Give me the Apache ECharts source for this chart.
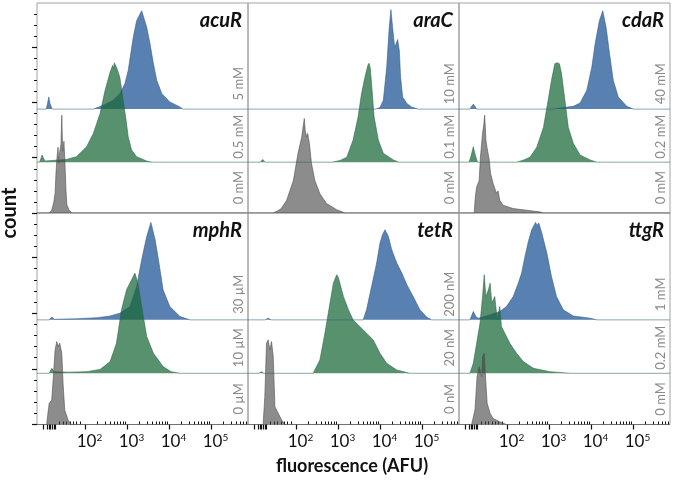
<!DOCTYPE html>
<html><head><meta charset="utf-8">
<script src="https://cdn.jsdelivr.net/npm/echarts@6/dist/echarts.min.js"></script>
<style>html,body{margin:0;padding:0;background:#fff}#c{width:673px;height:480px}</style>
</head><body><div id="c"></div>
<script>
// ---- categories / labels ----
const panels = ['acuR', 'araC', 'cdaR', 'mphR', 'tetR', 'ttgR'];
const concLabels = [
  ['0 mM', '0.5 mM', '5 mM'],
  ['0 mM', '0.1 mM', '10 mM'],
  ['0 mM', '0.2 mM', '40 mM'],
  ['0 \u00b5M', '10 \u00b5M', '30 \u00b5M'],
  ['0 nM', '20 nM', '200 nM'],
  ['0 mM', '0.2 mM', '1 mM']
];
// x positions are in decades (log10 of fluorescence, logicle display)
const majorTicks = [2, 3, 4, 5];
const majorTickExp = ['2', '3', '4', '5'];
const zeroRegionTicks = [1.01, 1.10, 1.14, 1.18, 1.22, 1.26, 1.30];
const lowMinorTicks = [1.40, 1.48, 1.56, 1.64, 1.72, 1.80, 1.88];
const ridgeOffsets = [0, 0.92, 1.88]; // baselines of gray, green, blue

// ---- series values: [decade position, count height] ----
const acuR_gray = [[1.15,0],[1.21,0.05],[1.26,0.2],[1.29,0.35],[1.31,0.7],[1.33,0.95],[1.36,1.19],[1.38,0.9],[1.40,1.1],[1.43,1.25],[1.45,1.77],[1.47,1.12],[1.49,1.2],[1.50,1.3],[1.52,1.0],[1.55,0.4],[1.57,0.15],[1.62,0.06],[1.69,0]];
const acuR_green = [[0.92,0],[0.96,0.08],[0.98,0.13],[1.01,0.08],[1.05,0.02],[1.56,0.05],[1.80,0.10],[2.04,0.28],[2.20,0.52],[2.36,0.88],[2.48,1.30],[2.60,1.63],[2.66,1.75],[2.68,1.70],[2.70,1.80],[2.73,1.78],[2.76,1.70],[2.83,1.54],[2.91,1.12],[2.98,0.76],[3.03,0.46],[3.11,0.22],[3.23,0.10],[3.47,0.02],[3.6,0]];
const acuR_blue = [[1.08,0],[1.11,0.1],[1.14,0.22],[1.17,0.1],[1.22,0],[2.2,0],[2.44,0.07],[2.67,0.16],[2.83,0.28],[2.95,0.46],[3.03,0.70],[3.09,1.0],[3.15,1.30],[3.23,1.60],[3.35,1.78],[3.47,1.48],[3.55,1.18],[3.63,0.82],[3.71,0.52],[3.83,0.28],[4.02,0.13],[4.26,0.04],[4.33,0]];

const araC_gray = [[1.45,0],[1.55,0.03],[1.65,0.08],[1.78,0.23],[1.94,0.59],[2.05,1.08],[2.14,1.38],[2.17,1.56],[2.20,1.71],[2.22,1.50],[2.25,1.38],[2.28,1.44],[2.32,1.26],[2.37,0.90],[2.45,0.59],[2.57,0.35],[2.73,0.17],[2.97,0.06],[3.17,0]];
const araC_green = [[1.15,0],[1.21,0.05],[1.27,0],[2.85,0],[3.05,0.03],[3.21,0.09],[3.36,0.40],[3.48,0.82],[3.56,1.24],[3.64,1.53],[3.71,1.75],[3.74,1.79],[3.77,1.70],[3.80,1.42],[3.86,0.82],[3.96,0.40],[4.08,0.16],[4.32,0.04],[4.45,0]];
const araC_blue = [[3.9,0],[4.0,0.03],[4.08,0.16],[4.16,0.76],[4.22,1.48],[4.26,1.80],[4.30,1.48],[4.35,1.12],[4.38,1.18],[4.42,1.26],[4.46,1.06],[4.49,0.58],[4.54,0.22],[4.64,0.10],[4.75,0.04],[4.9,0]];

const cdaR_gray = [[1.22,0],[1.25,0.3],[1.28,0.47],[1.34,0.59],[1.37,1.01],[1.42,1.44],[1.45,1.6],[1.47,1.77],[1.49,1.5],[1.50,1.32],[1.53,1.17],[1.58,0.96],[1.61,0.72],[1.67,0.54],[1.71,0.45],[1.75,0.36],[1.79,0.4],[1.83,0.23],[1.91,0.14],[2.15,0.08],[2.47,0.05],[2.79,0.02],[2.87,0]];
const cdaR_green = [[1.10,0],[1.15,0.12],[1.20,0.28],[1.25,0.12],[1.30,0],[2.23,0],[2.40,0.04],[2.55,0.09],[2.71,0.27],[2.87,0.63],[2.98,1.12],[3.06,1.48],[3.14,1.78],[3.17,1.76],[3.20,1.80],[3.25,1.78],[3.30,1.60],[3.38,1.12],[3.46,0.63],[3.58,0.34],[3.74,0.13],[3.98,0.04],[4.14,0]];
const cdaR_blue = [[1.12,0],[1.16,0.05],[1.20,0.09],[1.24,0.05],[1.28,0],[3.1,0],[3.26,0.02],[3.58,0.05],[3.74,0.11],[3.90,0.34],[4.02,0.76],[4.10,1.19],[4.20,1.60],[4.28,1.78],[4.36,1.48],[4.44,1.01],[4.53,0.52],[4.65,0.22],[4.85,0.05],[5.01,0]];

const mphR_gray = [[1.09,0],[1.12,0.2],[1.15,0.38],[1.21,0.44],[1.25,0.86],[1.29,1.34],[1.33,1.49],[1.36,1.40],[1.40,1.46],[1.45,1.28],[1.48,0.74],[1.52,0.26],[1.60,0.08],[1.68,0]];
const mphR_green = [[1.15,0],[1.21,0.09],[1.27,0.03],[1.6,0.02],[2.04,0.03],[2.36,0.07],[2.60,0.21],[2.75,0.54],[2.87,1.14],[2.99,1.50],[3.11,1.68],[3.19,1.80],[3.27,1.59],[3.35,1.20],[3.47,0.66],[3.63,0.36],[3.86,0.12],[4.05,0.03],[4.26,0]];
const mphR_blue = [[1.15,0],[1.21,0.05],[1.27,0.01],[1.8,0.02],[2.3,0.04],[2.60,0.07],[2.83,0.12],[3.07,0.24],[3.23,0.60],[3.35,1.08],[3.47,1.50],[3.57,1.75],[3.67,1.44],[3.75,1.08],[3.86,0.54],[4.02,0.24],[4.26,0.06],[4.5,0]];

const tetR_gray = [[1.22,0],[1.26,0.5],[1.30,1.46],[1.34,1.52],[1.38,1.34],[1.42,1.49],[1.46,1.22],[1.50,0.32],[1.58,0.20],[1.66,0.08],[1.74,0]];
const tetR_green = [[1.12,0],[1.18,0.03],[1.24,0],[2.41,0],[2.57,0.24],[2.69,0.72],[2.81,1.26],[2.89,1.62],[2.97,1.77],[3.01,1.72],[3.05,1.74],[3.13,1.38],[3.25,1.14],[3.36,0.96],[3.52,0.84],[3.68,0.72],[3.84,0.60],[4.0,0.36],[4.16,0.18],[4.40,0.06],[4.71,0]];
const tetR_blue = [[1.27,0],[1.34,0.03],[1.41,0],[3.60,0],[3.68,0.18],[3.80,0.60],[3.92,1.02],[4.0,1.38],[4.06,1.53],[4.12,1.62],[4.20,1.50],[4.28,1.26],[4.40,1.02],[4.52,0.84],[4.64,0.63],[4.79,0.42],[4.95,0.18],[5.11,0.05],[5.23,0]];

const ttgR_gray = [[1.16,0],[1.24,0.26],[1.29,0.86],[1.34,1.04],[1.40,0.86],[1.42,1.22],[1.46,1.28],[1.50,0.74],[1.53,0.38],[1.60,0.20],[1.67,0.11],[1.83,0.05],[1.99,0]];
const ttgR_green = [[1.12,0],[1.20,0.18],[1.28,0.54],[1.36,0.90],[1.42,1.38],[1.46,1.77],[1.50,1.38],[1.56,1.50],[1.60,1.62],[1.64,1.26],[1.71,1.38],[1.77,0.96],[1.83,1.20],[1.87,0.84],[1.95,0.72],[2.07,0.54],[2.23,0.36],[2.39,0.21],[2.63,0.09],[3.02,0.03],[3.5,0]];
const ttgR_blue = [[1.12,0],[1.20,0.15],[1.27,0.05],[1.32,0.03],[1.60,0.09],[1.83,0.15],[1.99,0.24],[2.15,0.42],[2.27,0.66],[2.35,0.84],[2.43,1.14],[2.51,1.41],[2.59,1.62],[2.68,1.75],[2.72,1.70],[2.76,1.74],[2.83,1.56],[2.95,1.20],[3.06,0.78],[3.18,0.42],[3.34,0.18],[3.58,0.07],[3.98,0.03],[4.14,0]];

const panelData = [
  [acuR_gray, acuR_green, acuR_blue],
  [araC_gray, araC_green, araC_blue],
  [cdaR_gray, cdaR_green, cdaR_blue],
  [mphR_gray, mphR_green, mphR_blue],
  [tetR_gray, tetR_green, tetR_blue],
  [ttgR_gray, ttgR_green, ttgR_blue]
];

// ---- styles ----
const X_MIN = 0.86, X_MAX = 5.88, Y_MAX = 3.8;
const FONT = 'Lato, "Open Sans", sans-serif';
const fills = ['rgba(63,63,63,0.6)', 'rgba(23,102,53,0.72)', 'rgba(23,79,145,0.72)'];
const strokes = ['rgba(80,80,80,0.75)', 'rgba(45,100,75,0.7)', 'rgba(50,90,130,0.7)'];
const L = { left: 37, width: 211, tops: [3, 213], heights: [210, 211.5] };

const minorTicks = lowMinorTicks.slice();
for (let n = 2; n <= 5; n++) for (let k = 2; k <= 9; k++) {
  const v = n + Math.log10(k); if (v < X_MAX) minorTicks.push(v);
}
const yMajor = [0, 1, 2, 3];
const yMinor = [];
for (let i = 1; i <= 19; i++) if (i % 5 !== 0) yMinor.push(i * 0.2);

const grids = [], xAxes = [], yAxes = [], series = [], graphics = [];
panels.forEach((name, p) => {
  const row = Math.floor(p / 3), col = p % 3;
  const left = L.left + col * L.width, top = L.tops[row], h = L.heights[row];
  grids.push({ left, top, width: L.width, height: h, show: true, borderColor: '#a2a2a2', borderWidth: 1, backgroundColor: 'transparent' });
  const showX = row === 1, showY = col === 0;
  xAxes.push({
    type: 'value', gridIndex: p, min: X_MIN, max: X_MAX,
    axisLine: { show: false }, splitLine: { show: false },
    axisTick: { show: showX, customValues: majorTicks.concat(zeroRegionTicks), length: 5, lineStyle: { color: '#111', width: 1.2 } },
    axisLabel: {
      show: showX, customValues: majorTicks, margin: 8, padding: [0, 0, 0, 9],
      formatter: v => '{b|10}{s|' + majorTickExp[majorTicks.indexOf(v)] + '}',
      rich: {
        b: { fontSize: 17, fontFamily: FONT, color: '#111', verticalAlign: 'bottom', lineHeight: 18 },
        s: { fontSize: 10, fontFamily: FONT, color: '#111', verticalAlign: 'top', lineHeight: 18 }
      }
    }
  });
  xAxes.push({
    type: 'value', gridIndex: p, min: X_MIN, max: X_MAX,
    axisLine: { show: false }, splitLine: { show: false },
    axisTick: { show: showX, customValues: minorTicks, length: 3, lineStyle: { color: '#111', width: 1 } },
    axisLabel: { show: false }
  });
  yAxes.push({
    type: 'value', gridIndex: p, min: 0, max: Y_MAX, position: 'left',
    axisLine: { show: false }, splitLine: { show: false }, axisLabel: { show: false },
    axisTick: { show: showY, customValues: yMajor, length: 5, lineStyle: { color: '#111', width: 1.2 } }
  });
  yAxes.push({
    type: 'value', gridIndex: p, min: 0, max: Y_MAX, position: 'left', offset: 0,
    axisLine: { show: false }, splitLine: { show: false }, axisLabel: { show: false },
    axisTick: { show: showY, customValues: yMinor, length: 3, lineStyle: { color: '#111', width: 1 } }
  });
  // draw blue, then green, then gray on top
  [2, 1, 0].forEach(j => {
    const off = ridgeOffsets[j];
    const pts = [[X_MIN, 0]].concat(panelData[p][j], [[X_MAX, 0]]);
    series.push({
      type: 'line', xAxisIndex: 2 * p, yAxisIndex: 2 * p,
      data: pts.map(d => [d[0], off + d[1]]),
      symbol: 'none', showSymbol: false, smooth: false, silent: true,
      lineStyle: { width: 0.8, color: strokes[j] },
      areaStyle: { origin: off, color: fills[j], opacity: 1 }
    });
  });
  // panel title
  const pxPerUnit = h / Y_MAX;
  graphics.push({
    type: 'text', x: left + L.width - 6, y: top + 18, silent: true,
    style: { text: name, fontFamily: FONT, fontSize: 20, fontWeight: 'bold', fontStyle: 'italic', fill: '#111', align: 'right', verticalAlign: 'middle' }
  });
  // concentration labels (rotated)
  ridgeOffsets.forEach((off, j) => {
    graphics.push({
      type: 'text', x: left + L.width - 9, y: top + h - (off + 0.46) * pxPerUnit, rotation: Math.PI / 2, silent: true,
      style: { text: concLabels[p][j], fontFamily: FONT, fontSize: 13, fill: '#8a8a8a', align: 'center', verticalAlign: 'middle' }
    });
  });
});

graphics.push({
  type: 'text', x: 10, y: 213, rotation: Math.PI / 2, silent: true,
  style: { text: 'count', fontFamily: FONT, fontSize: 20, fontWeight: 'bold', fill: '#111', align: 'center', verticalAlign: 'middle' }
});
graphics.push({
  type: 'text', x: 352, y: 466, silent: true,
  style: { text: 'fluorescence (AFU)', fontFamily: FONT, fontSize: 18, fontWeight: 'bold', fill: '#111', align: 'center', verticalAlign: 'middle' }
});

const chart = echarts.init(document.getElementById('c'), null, { renderer: 'canvas' });
chart.setOption({
  animation: false,
  backgroundColor: '#fff',
  grid: grids, xAxis: xAxes, yAxis: yAxes, series: series,
  graphic: graphics
});
</script></body></html>
